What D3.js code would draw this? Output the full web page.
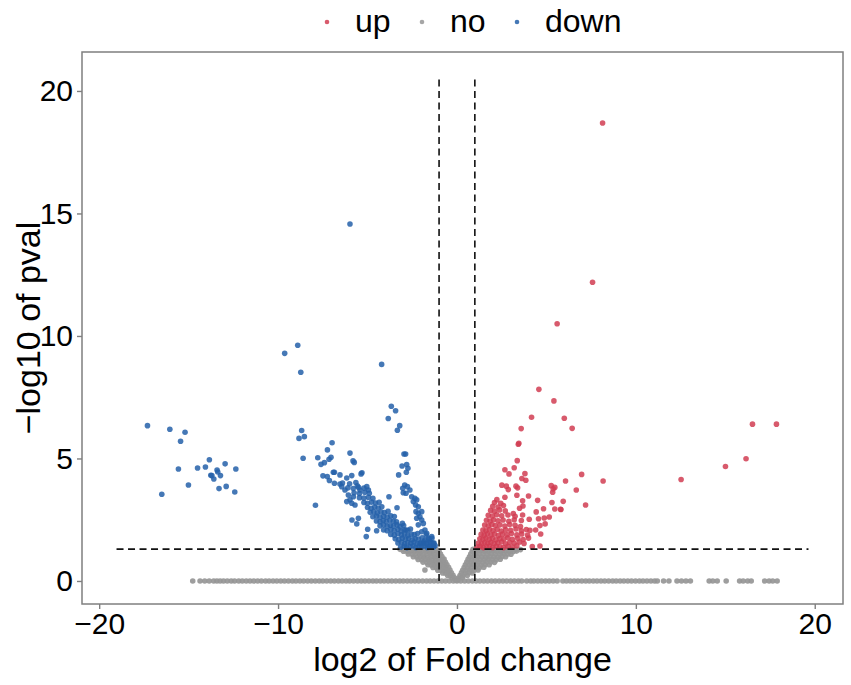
<!DOCTYPE html>
<html><head><meta charset="utf-8">
<script src="https://cdn.jsdelivr.net/npm/d3@7"></script>
<style>
body{margin:0;background:#fff}
svg{display:block}
text{font-family:"Liberation Sans",Arial,Helvetica,sans-serif;fill:#000}
</style>
</head><body>
<svg id="chart" width="851" height="685"></svg>
<script>
// ---- data (log2 fold change, -log10 p) ----
const categories = ["up", "no", "down"];
const colors = ["#d13d52", "#969696", "#2560a9"];
const xTicks = [-20, -10, 0, 10, 20];
const yTicks = [0, 5, 10, 15, 20];

const upPoints = [
 [8.14,18.69],[7.58,12.19],[5.6,10.5],[6.0,6.64],[6.44,6.23],[16.52,6.4],[17.86,6.4],[16.16,4.99],[15.01,4.67],[12.53,4.14],
 [6.07,4.08],[6.97,4.35],[8.17,4.08],[6.67,3.71],[5.94,3.25],[5.81,2.92],[7.19,3.1],
 [4.58,7.82],[5.42,7.35],[4.17,6.68],[3.59,6.22],[3.46,5.62],[3.43,5.58],[3.37,4.91],
 [2.68,4.54],[3.2,4.62],[2.91,4.37],[3.8,4.38],[3.63,4.18],[3.85,4.11],
 [2.51,3.91],[2.76,3.87],[2.87,3.73],[3.3,3.87],[3.39,3.8],[3.35,3.5],[2.68,3.42],[4.0,3.47],[4.51,3.29],[3.67,3.27],[2.23,3.32],
 [5.27,3.89],[5.38,3.76],[5.47,3.82],[5.35,3.62],
 [5.31,3.2],[5.47,2.94],[5.79,2.93],[4.84,2.95],[4.43,2.82],[3.69,3.06],[3.5,2.97],[3.67,2.69],[3.15,2.75],[4.04,2.52],[4.56,2.54],
 [4.88,2.57],[5.16,2.61],[4.93,2.33],[4.64,2.26],[4.4,2.08],[4.08,2.07],[4.68,1.92],[4.21,1.4],[4.64,1.43],
 [1.12,1.38],[1.3,1.41],[1.48,1.36],[1.65,1.4],[1.82,1.43],[2.0,1.37],[2.2,1.42],[2.4,1.39],[2.6,1.36],[2.85,1.41],[3.1,1.38],[3.35,1.44],
 [1.2,1.55],[1.38,1.52],[1.55,1.57],[1.72,1.54],[1.9,1.58],[2.08,1.53],[2.28,1.56],[2.5,1.6],[2.72,1.52],[2.95,1.57],[3.2,1.55],[3.5,1.59],[3.75,1.53],
 [1.28,1.72],[1.45,1.69],[1.62,1.75],[1.8,1.7],[1.98,1.74],[2.18,1.68],[2.4,1.73],[2.62,1.71],[2.85,1.76],[3.1,1.7],[3.4,1.74],[3.7,1.69],[4.0,1.75],
 [1.35,1.9],[1.52,1.87],[1.7,1.93],[1.9,1.88],[2.1,1.92],[2.32,1.86],[2.55,1.91],[2.8,1.89],[3.05,1.94],[3.35,1.88],[3.62,1.92],[3.95,1.87],
 [1.45,2.08],[1.62,2.05],[1.82,2.1],[2.02,2.06],[2.25,2.11],[2.48,2.04],[2.72,2.09],[3.0,2.07],[3.3,2.12],[3.6,2.05],[3.88,2.1],
 [1.55,2.28],[1.75,2.25],[1.95,2.3],[2.15,2.26],[2.4,2.29],[2.68,2.24],[2.95,2.3],[3.25,2.27],[3.55,2.22],
 [1.65,2.48],[1.85,2.45],[2.05,2.5],[2.3,2.46],[2.58,2.49],[2.9,2.44],[3.2,2.5],[3.6,2.47],
 [1.75,2.68],[1.98,2.65],[2.22,2.7],[2.5,2.66],[2.85,2.69],[3.25,2.64],
 [1.88,2.88],[2.1,2.85],[2.38,2.9],[2.7,2.86],
 [2.0,3.05],[2.3,3.02],[2.6,3.08],[2.1,3.2],[2.45,3.17]
];

const downPoints = [
 [-17.3,6.34],[-16.05,6.19],[-15.2,6.07],[-15.45,5.7],[-13.84,4.95],[-12.96,4.78],[-15.57,4.57],[-14.5,4.61],[-14.06,4.65],[-12.36,4.57],
 [-13.76,4.31],[-13.41,4.53],[-13.37,4.45],[-13.22,4.3],[-13.59,4.16],[-13.7,4.3],[-15.01,3.92],[-13.3,3.77],[-12.9,3.86],[-12.42,3.63],[-16.5,3.54],
 [-5.98,14.57],[-8.9,9.62],[-9.63,9.29],[-8.73,8.52],[-4.21,8.84],
 [-3.67,7.13],[-3.43,6.95],[-3.84,6.63],[-3.2,6.34],[-3.33,6.15],
 [-8.68,6.14],[-8.83,5.82],[-8.53,5.89],[-8.6,5.01],[-6.98,5.64],[-7.24,5.35],[-5.98,5.22],[-7.78,5.03],[-7.04,5.05],[-7.15,4.97],
 [-7.41,4.83],[-7.6,4.76],[-5.81,4.9],[-5.74,4.84],
 [-2.96,5.18],[-2.87,5.18],[-3.07,4.69],[-2.81,4.75],[-2.74,4.6],[-2.83,4.44],[-3.26,4.33],
 [-7.49,4.29],[-7.25,4.26],[-6.91,4.44],[-6.85,4.44],[-6.54,4.33],[-7.13,4.1],[-6.85,3.99],[-6.16,4.2],[-5.88,4.3],[-5.31,4.42],[-5.36,4.37],
 [-7.91,3.09],[-3.8,3.44],[-3.35,2.99],[-5.87,2.49],[-5.51,2.56],[-5.6,2.33],[-4.99,2.11],[-5.07,1.81],[-4.49,2.05],[-3.05,2.35],[-2.85,2.08],
 [-6.54,3.96],[-6.26,3.71],[-6.07,3.51],[-5.98,3.31],[-5.79,3.44],[-5.57,3.88],[-5.42,3.71],[-5.04,3.85],[-4.95,3.71],[-5.7,3.1],[-6.16,3.24],[-5.88,3.17],[-6.44,3.85],
 [-2.92,3.92],[-3.03,3.78],[-2.77,3.85],[-2.63,3.71],[-2.85,3.58],[-3.0,3.6],[-2.53,3.44],[-2.35,3.37],[-2.44,3.24],[-2.25,3.31],[-2.31,3.1],
 [-2.16,3.03],[-2.29,2.83],[-2.16,2.76],[-1.97,2.83],[-2.07,2.62],[-2.25,2.56],[-1.97,2.49],[-1.88,2.35],[-2.16,2.29],[-1.79,2.08],[-1.97,2.01],
 [-1.69,1.95],[-1.6,1.74],[-1.79,1.67],[-1.51,1.6],[-1.32,1.54],[-1.41,1.81],[-1.69,1.54],[-1.88,1.54],[-2.07,1.54],[-1.3,1.4],[-1.55,1.4],
 [-3.15,1.38],[-2.95,1.42],[-2.8,1.36],[-2.62,1.4],[-2.45,1.44],[-2.3,1.37],[-2.12,1.41],[-1.98,1.39],[-1.82,1.43],[-1.66,1.37],[-1.5,1.42],[-1.35,1.38],[-1.22,1.45],
 [-3.3,1.55],[-3.1,1.58],[-2.92,1.52],[-2.75,1.57],[-2.58,1.54],[-2.4,1.59],[-2.22,1.53],[-2.02,1.56],[-1.85,1.6],[-1.7,1.52],[-1.45,1.57],[-1.28,1.55],
 [-3.45,1.72],[-3.25,1.69],[-3.05,1.75],[-2.88,1.7],[-2.7,1.74],[-2.5,1.68],[-2.33,1.73],[-2.15,1.71],[-1.95,1.76],[-1.55,1.7],[-1.4,1.74],
 [-3.7,1.9],[-3.5,1.87],[-3.3,1.93],[-3.1,1.88],[-2.92,1.92],[-2.75,1.86],[-2.55,1.91],[-2.38,1.89],[-2.2,1.94],[-1.72,1.88],
 [-4.1,2.08],[-3.9,2.05],[-3.7,2.1],[-3.5,2.06],[-3.3,2.11],[-3.12,2.04],[-2.95,2.09],[-2.75,2.07],[-2.6,2.12],
 [-4.3,2.25],[-4.1,2.28],[-3.9,2.23],[-3.72,2.27],[-3.55,2.24],[-3.35,2.29],[-3.18,2.22],[-2.98,2.26],
 [-4.5,2.45],[-4.3,2.42],[-4.12,2.47],[-3.95,2.43],[-3.75,2.48],[-3.55,2.44],[-3.38,2.41],
 [-4.7,2.62],[-4.5,2.65],[-4.3,2.6],[-4.1,2.64],[-3.9,2.61],[-3.7,2.66],[-3.5,2.63],
 [-4.85,2.8],[-4.65,2.83],[-4.45,2.78],[-4.25,2.82],[-4.05,2.79],[-3.85,2.84],
 [-5.0,3.0],[-4.8,2.97],[-4.6,3.02],[-4.4,2.98],[-4.2,3.03],
 [-5.2,3.2],[-5.0,3.17],[-4.78,3.22],[-4.55,3.18],[-4.35,3.21],
 [-5.45,3.4],[-5.2,3.38],[-4.95,3.42],[-4.7,3.37],
 [-5.75,3.6],[-5.45,3.57],[-5.15,3.62],[-4.9,3.58],
 [-6.1,3.8],[-5.8,3.77],[-5.5,3.82],[-5.2,3.79],
 [-6.4,4.0],[-6.0,3.97],[-5.65,4.02]
];

// non-significant genes above zero (the "V")
const noPoints = [
 [-0.08,0.04],[-0.28,0.12],[-0.14,0.13],[-0.52,0.22],[-0.38,0.21],[-0.22,0.23],
 [-0.8,0.33],[-0.64,0.32],[-0.47,0.34],[-0.31,0.33],
 [-1.07,0.44],[-0.9,0.43],[-0.72,0.45],[-0.55,0.44],[-0.39,0.45],
 [-1.34,0.55],[-1.16,0.54],[-0.98,0.56],[-0.8,0.55],[-0.62,0.54],[-0.47,0.56],
 [-1.62,0.66],[-1.44,0.65],[-1.26,0.67],[-1.08,0.66],[-0.9,0.65],[-0.72,0.67],[-0.56,0.66],
 [-1.9,0.77],[-1.7,0.76],[-1.5,0.78],[-1.31,0.77],[-1.12,0.76],[-0.94,0.78],[-0.76,0.77],[-0.64,0.76],
 [-2.17,0.88],[-1.97,0.87],[-1.77,0.89],[-1.57,0.88],[-1.37,0.87],[-1.18,0.89],[-0.99,0.88],[-0.8,0.87],[-0.72,0.89],
 [-2.44,0.99],[-2.24,0.98],[-2.03,1.0],[-1.83,0.99],[-1.63,0.98],[-1.43,1.0],[-1.23,0.99],[-1.03,0.98],[-0.84,1.0],
 [-2.72,1.1],[-2.5,1.09],[-2.29,1.11],[-2.08,1.1],[-1.87,1.09],[-1.66,1.11],[-1.45,1.1],[-1.25,1.09],[-1.05,1.11],[-0.92,1.1],
 [-2.99,1.21],[-2.78,1.2],[-2.56,1.22],[-2.35,1.21],[-2.14,1.2],[-1.92,1.22],[-1.7,1.21],[-1.5,1.2],[-1.3,1.22],[-1.1,1.21],[-1.0,1.2],
 [-3.18,1.29],[-2.95,1.28],[-2.72,1.29],[-2.5,1.28],[-2.28,1.29],[-2.05,1.28],[-1.82,1.29],[-1.6,1.28],[-1.38,1.29],[-1.16,1.28],
 [-1.79,0.45],
 [0.06,0.04],[0.1,0.12],[0.3,0.13],[0.17,0.22],[0.35,0.21],[0.58,0.23],
 [0.25,0.33],[0.45,0.32],[0.67,0.34],[0.88,0.33],
 [0.32,0.44],[0.52,0.43],[0.74,0.45],[0.96,0.44],[1.18,0.45],
 [0.4,0.55],[0.6,0.54],[0.82,0.56],[1.04,0.55],[1.26,0.54],[1.5,0.56],
 [0.47,0.66],[0.68,0.65],[0.9,0.67],[1.12,0.66],[1.35,0.65],[1.58,0.67],[1.8,0.66],
 [0.55,0.77],[0.76,0.76],[0.98,0.78],[1.2,0.77],[1.43,0.76],[1.66,0.78],[1.9,0.77],[2.1,0.76],
 [0.62,0.88],[0.84,0.87],[1.06,0.89],[1.29,0.88],[1.52,0.87],[1.75,0.89],[1.98,0.88],[2.2,0.87],[2.42,0.89],
 [0.7,0.99],[0.92,0.98],[1.15,1.0],[1.38,0.99],[1.61,0.98],[1.84,1.0],[2.07,0.99],[2.3,0.98],[2.52,1.0],[2.72,0.99],
 [0.77,1.1],[1.0,1.09],[1.23,1.11],[1.46,1.1],[1.69,1.09],[1.92,1.11],[2.15,1.1],[2.38,1.09],[2.61,1.11],[2.84,1.1],[3.02,1.09],
 [0.85,1.21],[1.08,1.2],[1.31,1.22],[1.54,1.21],[1.77,1.2],[2.0,1.22],[2.23,1.21],[2.46,1.2],[2.69,1.22],[2.92,1.21],[3.15,1.2],[3.33,1.22],
 [0.9,1.29],[1.13,1.28],[1.36,1.29],[1.6,1.28],[1.84,1.29],[2.08,1.28],[2.32,1.29],[2.56,1.28],[2.8,1.29],[3.05,1.28],[3.3,1.29],[3.55,1.28]
];

// non-significant genes with -log10 p = 0 (x positions)
const zeroX = [
 -14.77,-14.36,-14.1,-13.85,-13.6,-13.42,-13.24,-13.05,-12.84,-12.62,-12.43,-12.2,-12.0,-11.78,-11.57,-11.36,-11.14,-10.93,-10.7,-10.5,
 -10.28,-10.07,-9.85,-9.64,-9.42,-9.2,-9.0,-8.78,-8.57,-8.35,-8.14,-7.92,-7.7,-7.5,-7.28,-7.06,-6.85,-6.63,-6.42,-6.2,
 -6.0,-5.78,-5.56,-5.35,-5.14,-4.92,-4.7,-4.5,-4.28,-4.07,-3.85,-3.64,-3.42,-3.2,-3.0,-2.78,-2.57,-2.35,-2.14,-1.92,
 -1.7,-1.5,-1.28,-1.06,-0.85,-0.64,-0.42,-0.2,0.0,0.21,0.43,0.64,0.86,1.07,1.28,1.5,1.71,1.93,2.14,2.36,
 2.57,2.78,3.0,3.21,3.43,3.62,3.9,4.12,4.3,4.52,4.73,4.95,5.16,5.38,5.6,5.92,6.12,6.33,6.55,6.76,
 6.98,7.2,7.4,7.62,7.83,8.05,8.26,8.48,8.7,8.9,9.12,9.33,9.55,9.76,9.98,10.2,10.4,10.62,10.84,11.05,
 11.2,11.55,11.85,12.3,12.55,12.8,13.05,14.1,14.3,14.55,15.05,15.8,16.0,16.25,16.45,17.2,17.45,17.65,17.9
];

// threshold lines
const fcCut = 1, pCut = 1.3;
const segXRange = [-19.03, 19.65];
const segYRange = [0, 20.56];

// ---- drawing ----
const svg = d3.select("#chart");
const P = {left: 82, right: 843, top: 52, bottom: 604};
const x = d3.scaleLinear().domain([-20.96, 21.58]).range([P.left, P.right]);
const y = d3.scaleLinear().domain([-0.94, 21.59]).range([P.bottom, P.top]);

const R = 2.8;
const gPts = svg.append("g");
const allNo = noPoints.concat(zeroX.map(v => [v, 0]));
gPts.selectAll("circle.no").data(allNo).join("circle").attr("class","no")
  .attr("cx", d => x(d[0])).attr("cy", d => y(d[1])).attr("r", R)
  .attr("fill", colors[1]).attr("fill-opacity", 0.92);
gPts.selectAll("circle.down").data(downPoints).join("circle").attr("class","down")
  .attr("cx", d => x(d[0])).attr("cy", d => y(d[1])).attr("r", R)
  .attr("fill", colors[2]).attr("fill-opacity", 0.85);
gPts.selectAll("circle.up").data(upPoints).join("circle").attr("class","up")
  .attr("cx", d => x(d[0])).attr("cy", d => y(d[1])).attr("r", R)
  .attr("fill", colors[0]).attr("fill-opacity", 0.85);

// dashed threshold lines
const gl = svg.append("g").attr("stroke", "#111").attr("stroke-width", 1.6).attr("stroke-dasharray", "7,4.5").attr("fill","none");
[-fcCut, fcCut].forEach(v => {
  gl.append("line").attr("x1", x(v)).attr("x2", x(v)).attr("y1", y(segYRange[0])).attr("y2", y(segYRange[1]));
});
gl.append("line").attr("x1", x(segXRange[0])).attr("x2", x(segXRange[1])).attr("y1", y(pCut)).attr("y2", y(pCut));

// panel border
svg.append("rect").attr("x", P.left).attr("y", P.top).attr("width", P.right - P.left).attr("height", P.bottom - P.top)
  .attr("fill", "none").attr("stroke", "#7f7f7f").attr("stroke-width", 1.5);

// axes
const fmt = d3.format("d");
const xAxis = svg.append("g").attr("transform", `translate(0,${P.bottom})`)
  .call(d3.axisBottom(x).tickValues(xTicks).tickSize(5).tickPadding(4).tickFormat(fmt));
const yAxis = svg.append("g").attr("transform", `translate(${P.left},0)`)
  .call(d3.axisLeft(y).tickValues(yTicks).tickSize(5).tickPadding(4).tickFormat(fmt));
[xAxis, yAxis].forEach(a => {
  a.select(".domain").remove();
  a.selectAll(".tick line").attr("stroke", "#7f7f7f").attr("stroke-width", 1.4);
  a.selectAll(".tick text").attr("font-size", 30).attr("fill", "#000")
    .style("font-family", '"Liberation Sans",Arial,sans-serif');
});

// axis titles
svg.append("text").attr("x", (P.left + P.right) / 2).attr("y", 671).attr("text-anchor", "middle")
  .attr("font-size", 34).text("log2 of Fold change");
svg.append("text").attr("transform", `translate(40,${(P.top + P.bottom) / 2}) rotate(-90)`)
  .attr("text-anchor", "middle").attr("font-size", 34).text("\u2212log10 of pval");

// legend
const legX = [327, 422, 517];
const lg = svg.append("g");
categories.forEach((c, i) => {
  lg.append("circle").attr("cx", legX[i]).attr("cy", 22).attr("r", 2.3).attr("fill", colors[i]).attr("fill-opacity", 0.85);
  lg.append("text").attr("x", legX[i] + 28).attr("y", 32).attr("font-size", 32).text(c);
});
</script>
</body></html>
